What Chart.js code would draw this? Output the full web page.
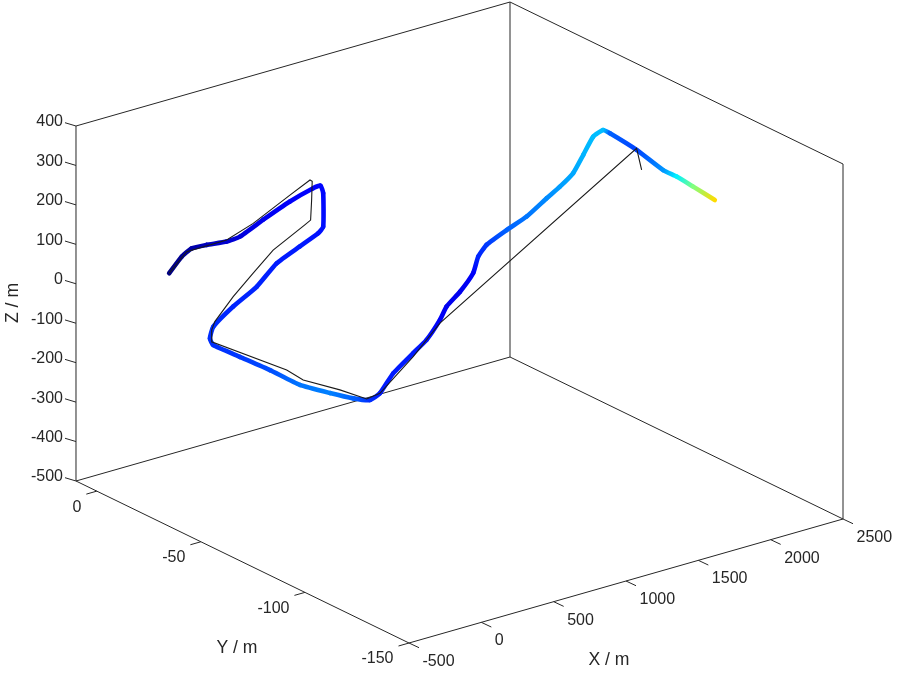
<!DOCTYPE html>
<html>
<head>
<meta charset="utf-8">
<script src="https://cdn.jsdelivr.net/npm/chart.js@4"></script>
<style>
  html, body { margin: 0; padding: 0; background: #fff; }
  canvas { display: block; }
</style>
</head>
<body>
<canvas id="chart" width="897" height="673"></canvas>

<script>
  // Axis limits and ticks of the 3-D view
  const xLim = [-500, 2500];
  const yLim = [-150, 10];
  const zLim = [-500, 400];
  const xTicks = [-500, 0, 500, 1000, 1500, 2000, 2500];
  const yTicks = [-150, -100, -50, 0];
  const zTicks = [-500, -400, -300, -200, -100, 0, 100, 200, 300, 400];

  // Estimated trajectory (coloured by error level, jet colormap)
  const estX = [0, 72, 127, 216, 340, 417, 564, 727, 866, 903,
                921, 921, 886, 760, 599, 461, 299, 161, 138,
                132, 273, 409, 544, 680, 769, 812,
                867, 944, 1054, 1132, 1210, 1241, 1320, 1397, 1417, 1461, 1570, 1680, 1775, 1838, 1901, 1942, 1967, 1993,
                2011, 2109, 2192, 2242, 2270, 2333];
  const estY = [0, -1, -2, -3, -4, -5, -6, -7.5, -9, -10,
                -10, -10, -10, -10, -10, -10, -10, -10, -10,
                -12, -15, -20, -25, -30, -35, -40,
                -41, -42, -44, -45, -46, -47, -48, -49, -50, -51, -53, -55, -58, -60, -62, -64, -67, -70,
                -72, -78, -85, -88, -94, -100];
  const estZ = [0, 37, 55, 57, 55, 62, 92, 125, 148, 153,
                132, 47, 34, 14, -12, -57, -90, -127, -154,
                -165, -202, -237, -276, -298, -308, -304,
                -290, -245, -200, -172, -127, -94, -62, -20, 22, 50, 81, 109, 153, 181, 214, 261, 312, 334,
                329, 292, 250, 236, 223, 198];
  const estErr = [0.00, 0.02, 0.04, 0.06, 0.08, 0.09, 0.11, 0.12, 0.125, 0.13,
                  0.13, 0.14, 0.14, 0.15, 0.15, 0.16, 0.16, 0.17, 0.17,
                  0.17, 0.18, 0.20, 0.24, 0.25, 0.22, 0.17,
                  0.15, 0.15, 0.15, 0.14, 0.12, 0.11, 0.11, 0.12, 0.16, 0.18, 0.22, 0.24, 0.26, 0.28, 0.29, 0.30, 0.31, 0.31,
                  0.22, 0.19, 0.27, 0.36, 0.50, 0.66];

  // Reference trajectory (black)
  const refX = [0, 107, 340, 502, 727, 837, 845, 841, 834, 794, 575, 437, 299, 172, 150, 136,
                496, 567, 720, 819, 867, 1054, 1210, 2109, 2115];
  const refY = [0, -1, -4, -5.5, -7.5, -9.5, -10, -10, -10, -10, -10, -10, -10, -10, -10, -11,
                -22, -25, -32, -38, -41, -44, -46, -78, -80];
  const refZ = [0, 46, 59, 88, 141, 173, 170, 123, 73, 65, 24, -20, -65, -115, -134, -160,
                -241, -266, -289, -307, -290, -209, -135, 296, 246];

  // orthographic view: screen position of (xmin,ymin,zmin) and per-unit screen steps
  const view = { ox: 409, oy: 643, xs: [0.14467, -0.04133], ys: [-2.0813, -1.0125], zs: [0, -0.39444] };
  function project(x, y, z) {
    const u = x - xLim[0], v = y - yLim[0], w = z - zLim[0];
    return {
      x: view.ox + u * view.xs[0] + v * view.ys[0] + w * view.zs[0],
      y: view.oy + u * view.xs[1] + v * view.ys[1] + w * view.zs[1]
    };
  }

  function jet(c) {
    const cl = t => Math.max(0, Math.min(1, t));
    const r = cl(1.5 - Math.abs(4 * c - 3));
    const g = cl(1.5 - Math.abs(4 * c - 2));
    const b = cl(1.5 - Math.abs(4 * c - 1));
    return `rgb(${Math.round(r * 255)},${Math.round(g * 255)},${Math.round(b * 255)})`;
  }

  const estPts = estX.map((x, i) => project(x, estY[i], estZ[i]));
  const refPts = refX.map((x, i) => project(x, refY[i], refZ[i]));

  // visible box edges
  const [x0, x1] = xLim, [y0, y1] = yLim, [z0, z1] = zLim;
  const edges = [
    [[x0, y1, z0], [x0, y1, z1]],
    [[x1, y1, z0], [x1, y1, z1]],
    [[x1, y0, z0], [x1, y0, z1]],
    [[x0, y1, z1], [x1, y1, z1]],
    [[x1, y1, z1], [x1, y0, z1]],
    [[x0, y1, z0], [x1, y1, z0]],
    [[x1, y1, z0], [x1, y0, z0]],
    [[x0, y1, z0], [x0, y0, z0]],
    [[x0, y0, z0], [x1, y0, z0]]
  ];
  const edgeSets = edges.map(e => ({
    data: e.map(p => project(p[0], p[1], p[2])),
    showLine: true, borderColor: '#262626', borderWidth: 1, pointRadius: 0, order: 3
  }));

  const axisDecor = {
    id: 'axisDecor',
    afterDraw(chart) {
      const ctx = chart.ctx, sx = chart.scales.x, sy = chart.scales.y;
      const px = p => [sx.getPixelForValue(p.x), sy.getPixelForValue(p.y)];
      ctx.save();
      ctx.strokeStyle = '#262626';
      ctx.fillStyle = '#262626';
      ctx.lineWidth = 1;
      ctx.font = '16px "Liberation Sans", Arial, sans-serif';
      const tick = (a, b, dx, dy) => { ctx.beginPath(); ctx.moveTo(a, b); ctx.lineTo(a + dx, b + dy); ctx.stroke(); };

      ctx.textAlign = 'right'; ctx.textBaseline = 'middle';
      zTicks.forEach(v => {
        const [a, b] = px(project(x0, y1, v));
        tick(a, b, -11, -3.3);
        ctx.fillText(String(v), a - 13, b - 4);
      });
      yTicks.forEach(v => {
        const [a, b] = px(project(x0, v, z0));
        tick(a, b, -10.5, 3);
        ctx.fillText(String(v), a - 15.5, b + 16);
      });
      ctx.textAlign = 'left';
      xTicks.forEach(v => {
        const [a, b] = px(project(v, y0, z0));
        tick(a, b, 10, 4.7);
        ctx.fillText(String(v), a + 13.5, b + 18.7);
      });

      ctx.font = '17.6px "Liberation Sans", Arial, sans-serif';
      ctx.textAlign = 'center';
      ctx.fillText('X / m', 609, 660);
      ctx.fillText('Y / m', 237, 648);
      ctx.translate(13, 303);
      ctx.rotate(-Math.PI / 2);
      ctx.fillText('Z / m', 0, 0);
      ctx.restore();
    }
  };

  new Chart(document.getElementById('chart').getContext('2d'), {
    type: 'scatter',
    data: {
      datasets: [
        {
          label: 'Reference',
          data: refPts,
          showLine: true, borderColor: '#1a1a1a', borderWidth: 1.1, pointRadius: 0, order: 1
        },
        {
          label: 'Estimate',
          data: estPts,
          showLine: true, borderWidth: 4.6, pointRadius: 0, tension: 0.15, order: 2,
          borderCapStyle: 'round', borderJoinStyle: 'round',
          borderColor: jet(0.15),
          segment: {
            borderColor: c => {
              const g = c.chart.ctx.createLinearGradient(c.p0.x, c.p0.y, c.p1.x + 0.01, c.p1.y + 0.01);
              g.addColorStop(0, jet(estErr[c.p0DataIndex]));
              g.addColorStop(1, jet(estErr[c.p1DataIndex]));
              return g;
            }
          }
        },
        ...edgeSets
      ]
    },
    options: {
      responsive: false,
      animation: false,
      devicePixelRatio: 1,
      layout: { padding: 0 },
      scales: {
        x: { type: 'linear', min: 0, max: 897, display: false },
        y: { type: 'linear', min: 0, max: 673, reverse: true, display: false }
      },
      plugins: { legend: { display: false }, tooltip: { enabled: false } }
    },
    plugins: [axisDecor]
  });
</script>
</body>
</html>
